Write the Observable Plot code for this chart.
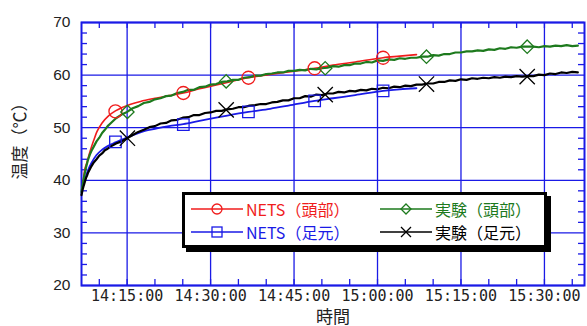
<!DOCTYPE html>
<html><head><meta charset="utf-8">
<script src="https://cdn.jsdelivr.net/npm/d3@7"></script>
<script src="https://cdn.jsdelivr.net/npm/@observablehq/plot@0.6"></script>
<style>
body{margin:0;background:#fff;}
#wrap{position:relative;width:587px;height:326px;overflow:hidden;}
#legend{position:absolute;left:182px;top:192px;width:359px;height:50px;border:3px solid #000;box-shadow:4px 4px 0 #000;background:#fff;font-family:"Noto Sans CJK JP",sans-serif;font-size:16px;}
.ent{position:absolute;height:20px;display:flex;align-items:center;white-space:nowrap;}
.ent svg{display:block;margin-right:3px;}
</style></head>
<body><div id="wrap"></div>
<script>
// ---- data (minutes after 14:00:00) ----
const seriesNames = ["NETS（頭部）","実験（頭部）","NETS（足元）","実験（足元）"];
const seriesColors = ["#f01c1c","#1d7a1d","#1a1ae6","#000000"];

const netsHeadT = [7.0,7.3,7.8,8.4,9.0,9.6,10.5,11.7,12.9,14,15.5,17.4,20,22.5,25.1,28,31,33,36.8,40.7,44,48.7,52,56,61,64,67];
const netsHeadV = [38.5,41.5,43.5,45.7,47.6,49.3,50.9,52.3,53.2,53.8,54.4,55.0,55.6,56.1,56.6,57.4,58.1,58.6,59.5,60.1,60.6,61.3,61.9,62.5,63.3,63.6,63.9];

const netsFootT = [7.0,7.5,8.0,8.7,9.5,10.5,11.5,12.9,14,15.8,18.2,20,22.5,25.1,28,31,33,36.8,40.7,44,48.7,52,56,61,64,67];
const netsFootV = [38.5,40.5,42.0,43.5,44.8,45.8,46.5,47.2,47.7,48.5,49.4,49.8,50.3,50.7,51.3,51.9,52.3,53.0,53.6,54.2,55.1,55.6,56.2,57.0,57.3,57.5];

const expT = [6.8,7.0,7.2,7.4,7.6,7.8,8.0,8.3,8.6,9.0,9.5,10,10.5,11,11.5,12,13,14,15,16,17,18,19,20,21,22,23,24,25,26,27,28,29,30,31,32,33,34,35,36,37,38,39,40,41,42,43,44,45,46,47,48,49,50,51,52,53,54,55,56,57,58,59,60,61,62,63,64,65,66,67,68,69,70,71,72,73,74,75,76,77,78,79,80,81,82,83,84,85,86,87,88,89,90,91,92,93,94,95,96];
const expHeadV = [37.8,39.0,40.3,41.4,42.4,43.2,44.0,44.9,45.6,46.4,47.4,48.1,49.0,49.6,50.3,50.8,51.8,52.5,53.0,53.7,54.1,54.7,54.9,55.4,55.6,56.0,56.1,56.6,56.8,57.2,57.2,57.7,57.8,58.2,58.3,58.7,58.8,59.1,59.1,59.5,59.6,59.9,59.9,60.2,60.3,60.5,60.5,60.8,60.8,61.0,60.9,61.2,61.1,61.3,61.4,61.7,61.6,61.9,61.9,62.2,62.2,62.5,62.4,62.8,62.7,63.0,62.9,63.2,63.1,63.3,63.3,63.5,63.5,63.8,63.7,64.0,64.0,64.3,64.3,64.5,64.5,64.7,64.6,64.9,64.8,65.1,65.0,65.3,65.2,65.4,65.4,65.4,65.3,65.5,65.4,65.6,65.5,65.7,65.5,65.6];
const expFootV = [37.2,38.2,39.0,39.7,40.4,40.9,41.5,42.1,42.7,43.4,44.0,44.7,45.1,45.7,46.0,46.4,47.0,47.4,48.0,48.6,49.2,49.6,50.1,50.3,50.8,50.9,51.4,51.5,51.9,52.0,52.4,52.4,52.8,52.9,53.2,53.2,53.5,53.6,53.9,53.9,54.2,54.3,54.5,54.5,54.8,54.9,55.2,55.2,55.6,55.6,56.0,55.9,56.3,56.2,56.5,56.5,56.8,56.7,57.0,56.9,57.2,57.1,57.4,57.3,57.6,57.5,57.8,57.7,58.0,57.9,58.2,58.2,58.4,58.4,58.7,58.7,59.0,58.9,59.2,59.1,59.4,59.3,59.5,59.4,59.6,59.5,59.7,59.6,59.8,59.7,59.8,59.8,60.1,60.0,60.3,60.2,60.5,60.4,60.6,60.5];

// marker points
const netsMarkT = [12.9,25.1,36.8,48.7,61.0];
const netsHeadMarkV = [53.1,56.6,59.5,61.3,63.3];
const netsFootMarkV = [47.3,50.6,53.0,55.1,57.0];
const expMarkT = [15.05,32.8,50.6,68.8,86.9];
const expHeadMarkV = [53.0,58.8,61.3,63.5,65.4];
const expFootMarkV = [48.0,53.4,56.3,58.3,59.7];

// axes
const xMajorLabels = ["14:15:00","14:30:00","14:45:00","15:00:00","15:15:00","15:30:00"];
const xMinorLabels = ["14:10:00","14:15:00","14:20:00","14:25:00","14:30:00","14:35:00","14:40:00","14:45:00","14:50:00","14:55:00","15:00:00","15:05:00","15:10:00","15:15:00","15:20:00","15:25:00","15:30:00","15:35:00"];
const yMajor = [20,30,40,50,60,70];
const yMinor = [22,24,26,28,32,34,36,38,42,44,46,48,52,54,56,58,62,64,66,68];
const xDomainMin = [6.8, 97.2];
const yLabel = "温度（℃）";
const xLabel = "時間";

// ---- build ----
const T = m => new Date(Date.UTC(2000,0,1,14,0,0) + Math.round(m*60000));
const P = s => { const [h,m,sec] = s.split(":").map(Number); return new Date(Date.UTC(2000,0,1,h,m,sec)); };
const pts = (ts, vs) => ts.map((t,i) => ({x:T(t), y:vs[i]}));
const xMajor = xMajorLabels.map(P), xMinor = xMinorLabels.map(P);

const W = 587, H = 326, mT = 22, mR = 3, mB = 41, mL = 81;
const innerW = W - mL - mR, innerH = H - mT - mB;
const GRID = "#1a1ae6";
const [RED, GREEN, BLUE, BLACK] = seriesColors;
const CJK = "'Noto Sans CJK JP', sans-serif";

const chart = Plot.plot({
  width: W, height: H, marginTop: mT, marginRight: mR, marginBottom: mB, marginLeft: mL,
  style: {background: "transparent", fontFamily: "'Liberation Sans', Arial, sans-serif"},
  x: {type: "utc", domain: xDomainMin.map(T)},
  y: {domain: [20, 70]},
  marks: [
    Plot.ruleX(xMajor, {stroke: GRID, strokeWidth: 1.3}),
    Plot.ruleY(yMajor, {stroke: GRID, strokeWidth: 1.3}),
    Plot.ruleX(xMinor, {stroke: GRID, strokeWidth: 1.3, insetTop: innerH - 6}),
    Plot.ruleX(xMinor, {stroke: GRID, strokeWidth: 1.3, insetBottom: innerH - 6}),
    Plot.ruleY(yMinor, {stroke: GRID, strokeWidth: 1.3, insetRight: innerW - 6}),
    Plot.ruleY(yMinor, {stroke: GRID, strokeWidth: 1.3, insetLeft: innerW - 6}),
    Plot.frame({stroke: GRID, strokeWidth: 2}),
    Plot.axisX(xMajor, {tickSize: 0, tickPadding: 5, tickFormat: (d) => xMajorLabels[xMajor.findIndex(v => +v === +d)], fontSize: 15, fontFamily: "'DejaVu Sans Mono', monospace", fill: "#222", label: null}),
    Plot.axisY(yMajor, {tickSize: 0, tickPadding: 11, fontSize: 15.5, fill: "#222", label: null}),
    Plot.text([yLabel], {frameAnchor: "left", textAnchor: "middle", dx: -61, dy: -17, rotate: -90, fontSize: 17, fontFamily: CJK, fill: "#222"}),
    Plot.text([xLabel], {frameAnchor: "bottom", dy: 37, fontSize: 17, fontFamily: CJK, fill: "#222"}),
    Plot.line(pts(netsHeadT, netsHeadV), {x: "x", y: "y", stroke: RED, strokeWidth: 1.6, curve: "monotone-x"}),
    Plot.line(pts(netsFootT, netsFootV), {x: "x", y: "y", stroke: BLUE, strokeWidth: 1.8, curve: "monotone-x"}),
    Plot.line(pts(expT, expHeadV), {x: "x", y: "y", stroke: GREEN, strokeWidth: 2.2}),
    Plot.line(pts(expT, expFootV), {x: "x", y: "y", stroke: BLACK, strokeWidth: 2.2}),
    Plot.dot(pts(netsMarkT, netsHeadMarkV), {x: "x", y: "y", symbol: "circle", r: 6.5, stroke: RED, strokeWidth: 1.3, fill: "none"}),
    Plot.dot(pts(netsMarkT, netsFootMarkV), {x: "x", y: "y", symbol: "square", r: 6.5, stroke: BLUE, strokeWidth: 1.3, fill: "none"}),
    Plot.dot(pts(expMarkT, expHeadMarkV), {x: "x", y: "y", symbol: "diamond2", r: 6, stroke: GREEN, strokeWidth: 1.3, fill: "none"}),
    Plot.dot(pts(expMarkT, expFootMarkV), {x: "x", y: "y", symbol: "times", r: 7, stroke: BLACK, strokeWidth: 1.3, fill: "none"})
  ]
});
const wrap = document.getElementById("wrap");
wrap.appendChild(chart);

// legend
const legend = document.createElement("div");
legend.id = "legend";
const symSvg = (k, c) => {
  let m = "";
  if (k === 0) m = `<circle cx="26" cy="10" r="5" fill="none" stroke="${c}" stroke-width="1.3"/>`;
  if (k === 1) m = `<path d="M26,5 L31,10 L26,15 L21,10 Z" fill="none" stroke="${c}" stroke-width="1.3"/>`;
  if (k === 2) m = `<rect x="21" y="5" width="10" height="10" fill="none" stroke="${c}" stroke-width="1.3"/>`;
  if (k === 3) m = `<path d="M21,5 L31,15 M31,5 L21,15" stroke="${c}" stroke-width="1.3"/>`;
  return `<svg width="52" height="20"><line x1="0" y1="10" x2="52" y2="10" stroke="${c}" stroke-width="1.3"/>${m}</svg>`;
};
const pos = [[6,4],[195,4],[6,27],[195,27]];
seriesNames.forEach((n, i) => {
  const e = document.createElement("div");
  e.className = "ent";
  e.style.left = pos[i][0] + "px";
  e.style.top = pos[i][1] + "px";
  e.style.color = seriesColors[i];
  e.innerHTML = symSvg(i, seriesColors[i]) + `<span>${n}</span>`;
  legend.appendChild(e);
});
wrap.appendChild(legend);
</script>
</body></html>
